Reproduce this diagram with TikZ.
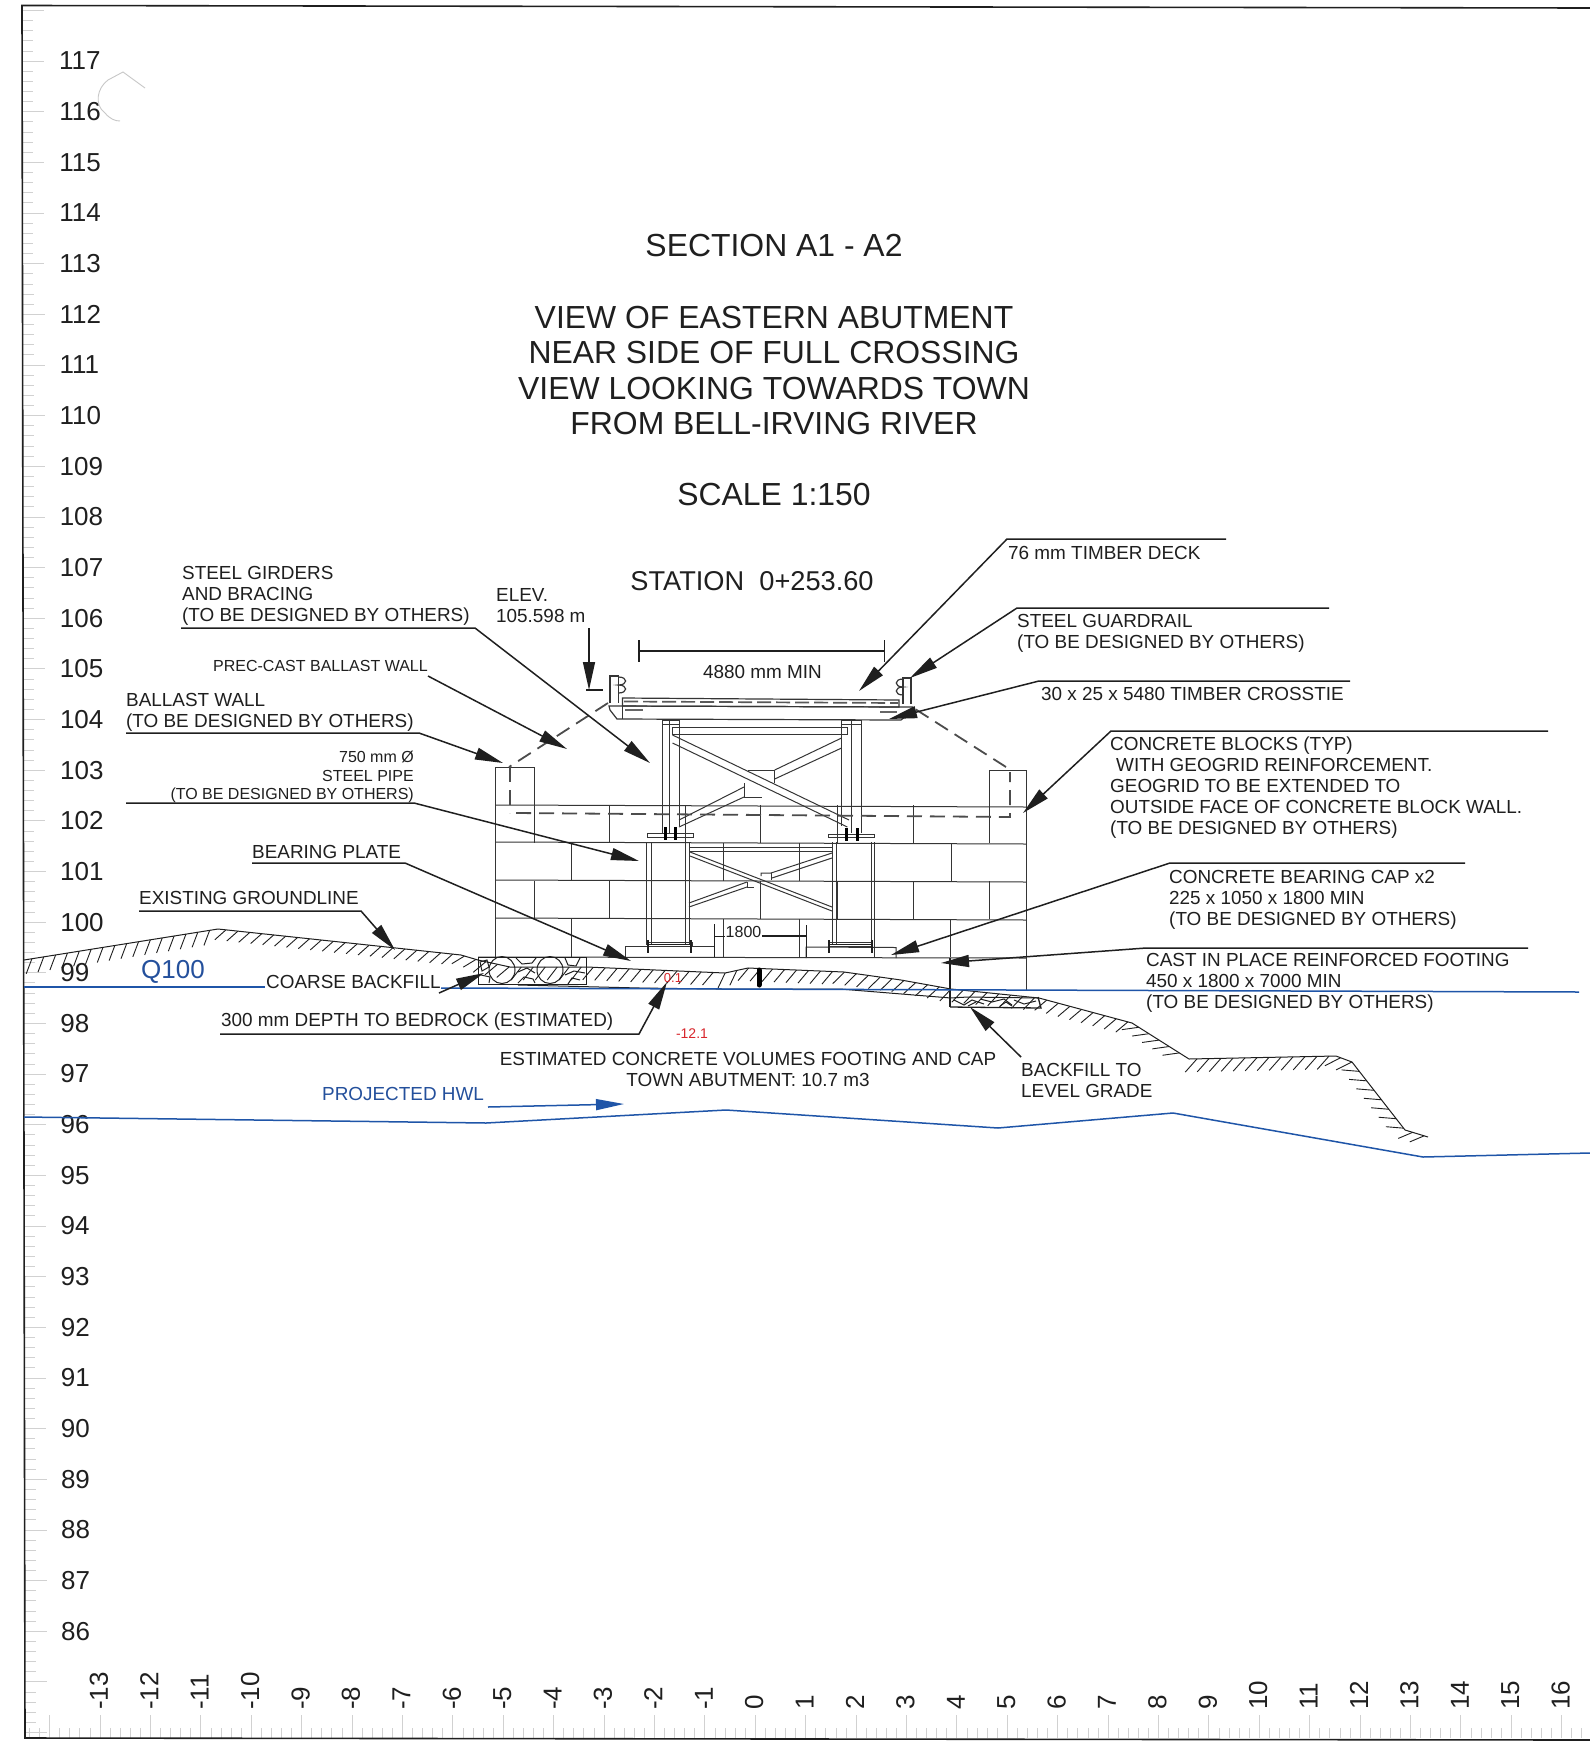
\documentclass[tikz,border=0pt]{standalone}
\usepackage{fontspec}
\setmainfont{Liberation Sans}
\usetikzlibrary{arrows.meta,decorations.markings}
\definecolor{ink}{gray}{0.12}
\definecolor{tickc}{gray}{0.82}
\definecolor{bluel}{HTML}{1F55A8}
\definecolor{bluet}{HTML}{24509C}
\definecolor{redt}{HTML}{D8262C}
\tikzset{
  lbl/.style={font=\fontsize{18.9}{21}\selectfont,inner sep=0pt,align=left,anchor=north west,text=ink},
  lblsm/.style={font=\fontsize{16}{18.5}\selectfont,inner sep=0pt,align=right,anchor=north east,text=ink},
  titl/.style={font=\fontsize{31.9}{35.5}\selectfont,inner sep=0pt,align=center,text=ink},
  axisnum/.style={font=\fontsize{26}{26}\selectfont,inner sep=0pt,text=ink},
  leader/.style={draw=ink,line width=1.5pt},
  tipped/.style={leader,-{Triangle[length=28pt,width=12pt]}},
  thin1/.style={draw=ink!90,line width=1pt},
  dashb/.style={draw=black!70,line width=1.8pt,dash pattern=on 15pt off 8pt},
  hatch/.style args={#1 and #2}{postaction={decorate,decoration={markings,mark=between positions 8pt and 1 step 12pt with {\draw[draw=ink,line width=0.9pt] (0,0) -- (#1pt,#2pt);}}}},
  stone/.style={draw=ink,line width=1pt},
  hwl/.style={draw=bluel,line width=1.5pt},
}
\begin{document}
\begin{tikzpicture}[x=1pt,y=-1pt]
\useasboundingbox (0,0) rectangle (1590,1743);
\fill[white] (0,0) rectangle (1590,1743);
% ticks
\foreach \i in {-5,...,165}{
  \pgfmathsetmacro{\yy}{61+10.13*\i}
  \pgfmathsetmacro{\xx}{22+(\yy-5)*3/1733}
  \pgfmathtruncatemacro{\mm}{mod(\i+100,5)}
  \ifnum\mm=0 \draw[tickc,line width=0.7pt] (\xx,\yy) -- ++(22,0);
  \else \draw[tickc,line width=0.7pt] (\xx,\yy) -- ++(11,0); \fi
}
\foreach \i in {-7,...,148}{
  \pgfmathsetmacro{\xx}{100+10.08*\i}
  \pgfmathtruncatemacro{\mm}{mod(\i+100,5)}
  \ifnum\mm=0 \draw[tickc,line width=0.7pt] (\xx,1738) -- (\xx,1715);
  \else \draw[tickc,line width=0.7pt] (\xx,1738) -- (\xx,1728); \fi
}
% frame
\draw[ink,line width=1.6pt] (1590,8) -- (22,5.5) -- (25,1738) -- (1590,1740);
% axis numbers
\foreach \v in {86,...,117}{
  \pgfmathsetmacro{\yy}{61+(117-\v)*50.65}
  \pgfmathsetmacro{\xx}{59+(117-\v)*2/31}
  \node[axisnum,anchor=west] (y\v) at (\xx,\yy) {\v};
}
\foreach \v/\n in {-13/a,-12/b,-11/c,-10/d,-9/e,-8/f,-7/g,-6/h,-5/i,-4/j,-3/k,-2/l,-1/m,0/n,1/o,2/p,3/q,4/r,5/s,6/t,7/u,8/v,9/w,10/x,11/y,12/z,13/aa,14/ab,15/ac,16/ad}{
  \pgfmathsetmacro{\xx}{99+(\v+13)*50.4}
  \node[axisnum,rotate=90,anchor=west] (x\n) at (\xx,1710) {\v};
}
% punch-hole trace
\draw[black!22,line width=0.9pt] (145,88) -- (123,72) -- (108,80) .. controls (97,88) and (94,105) .. (105,113) .. controls (110,119) and (115,121) .. (120,121);
% titles
\node[titl] (t1) at (774,246) {SECTION A1 - A2};
\node[titl] (t2) at (774,370.5) {VIEW OF EASTERN ABUTMENT\\NEAR SIDE OF FULL CROSSING\\VIEW LOOKING TOWARDS TOWN\\FROM BELL-IRVING RIVER};
\node[titl] (t3) at (774,495) {SCALE 1:150};
\node[titl,font=\fontsize{27.2}{30}\selectfont] (t4) at (752,581) {STATION\ \ 0+253.60};

% ---------- concrete block wall
\begin{scope}[thin1]
\draw (495,767) -- (534,767) -- (534,805);
\draw (989,770) -- (1026.5,770) -- (1026.5,990);
\draw (989,770) -- (989,807);
\draw (495,767) -- (495,957);
\draw (495,805) -- (1026.5,807);
\draw (495,842) -- (1026.5,844);
\draw (495,880) -- (1026.5,882);
\draw (495,918) -- (1026.5,920);
\draw (478,957) -- (1026.5,958);
\foreach \x in {534,609,685,760.5,837,913,989}{\draw (\x,805) -- (\x,843);}
\foreach \x in {571,723,799,874,951}{\draw (\x,843) -- (\x,881);}
\foreach \x in {534,609,685,760.5,837,913,989}{\draw (\x,881) -- (\x,919);}
\foreach \x in {571,799,723,874,950}{\draw (\x,919) -- (\x,957);}
% steel pipes
\foreach \x in {646.5,651,685,689,832,836.7,871,874.5}{\draw (\x,842) -- (\x,945);}
% caps
\draw (625.4,957) -- (625.4,946) -- (714.6,946) -- (714.6,957);
\draw (806,958) -- (806,947) -- (896,947.5) -- (896,958);
% lower bracing
\draw (689,847) -- (832,847);
\draw (689,851) -- (832,851);
\draw (690,852) -- (832,907);
\draw (690,856) -- (832,911);
\draw (832,853) -- (771,873) -- (761,873) -- (761,876);
\draw (832,858) -- (772,878);
\draw (771,873) -- (771,880);
\draw (747,882) -- (689,903);
\draw (747,887) -- (689,907);
\draw (747,882) -- (747,887) -- (754,887);
% girders
\draw (662,720) -- (662,833);
\draw (669,720) -- (669,833);
\draw (679,720) -- (679,826);
\draw (662,720) rectangle (679,724);
\draw (841.6,720) -- (841.6,826);
\draw (851,720) -- (851,833);
\draw (861,720) -- (861,833);
\draw (841.6,720) rectangle (861,724);
\draw (672.5,727) rectangle (847.4,734);
\draw (672.5,735) -- (849,820);
\draw (672.5,743) -- (847.4,827);
\draw (841.6,738) -- (774.7,770);
\draw (841.6,748) -- (774.7,779);
\draw (744,787) -- (679,820);
\draw (744,797) -- (679,827);
\draw (748,770) -- (774.7,770) -- (774.7,783);
\draw (744,783) -- (744,797) -- (762,797);
% base plates
\draw (647,833) rectangle (693,837);
\draw (828,834) rectangle (874,837);
\draw (647,942) rectangle (692,946);
\draw (829,942) rectangle (872,946);
% deck & crosstie
\draw[line width=1.2pt] (622.4,698) -- (899,700) -- (899,707) -- (622.4,706) -- cycle;
\draw[line width=1.2pt] (609,706) -- (912.5,707) -- (912.5,711) -- (901,720) -- (617,719) -- (610,710) -- cycle;
\draw (622.4,706) -- (622.4,719);
% guardrails
\draw[line width=1.2pt] (610,703) -- (610,676) -- (618.5,676) -- (618.5,703);
\draw[line width=1.2pt] (618.5,677) .. controls (628,677) and (628,685) .. (618.5,685) .. controls (628,685) and (628,693) .. (618.5,693);
\draw[line width=1.2pt] (911,704) -- (911,678) -- (903,678) -- (903,704);
\draw[line width=1.2pt] (903,679) .. controls (894,679) and (894,687) .. (903,687) .. controls (894,687) and (894,695) .. (903,695);
\end{scope}
% deck dashes
\draw[draw=black!65,line width=1.7pt,dash pattern=on 14pt off 5pt] (624,701.5) -- (898,703);
\draw[draw=black!60,line width=1.5pt] (625,710) -- (643,710);
\draw[draw=black!60,line width=1.5pt] (880,712) -- (897,712);
% bolts
\foreach \x/\y in {665.6/833,675/833,846/834,857/834}{\draw[black,line width=3pt] (\x,\y-6) -- (\x,\y+7);}
\foreach \x/\y in {648/950,691/950,829/950,872/950}{\draw[ink,line width=1.8pt] (\x,\y-10) -- (\x,\y+3);}
\draw[ink,line width=1.8pt] (648,944.5) -- (692,944.5);
\draw[ink,line width=1.8pt] (829,944.5) -- (872,944.5);
% ballast dashed outline
\draw[dashb] (608,703) -- (509,767);
\draw[dashb] (510,767) -- (510,813);
\draw[dashb] (516,813) -- (1010,817) -- (1010,772);
\draw[dashb] (1006,767) -- (912,707);

% ---------- ground
\draw[ink,line width=1pt,hatch={-8 and -14}] (24,960) -- (218,929);
\draw[ink,line width=1pt,hatch={-10 and -11}] (218,929) -- (396,948) -- (461,955) -- (478,960);
\draw[ink,line width=1pt,hatch={-10 and -13}] (478,960) -- (510,967) -- (587,967) -- (725,973) -- (748,968) -- (844,972) -- (901,980) -- (951,989) -- (1039,998);
\draw[ink,line width=1pt] (518,985) -- (640,988) -- (717,989) -- (840,989) -- (951,998);
\draw[ink,line width=1pt,hatch={-9 and -13}] (1039,998) -- (1132,1023);
\draw[ink,line width=1pt,hatch={-13 and -11}] (1132,1023) -- (1189,1059);
\draw[ink,line width=1pt,hatch={-12 and -13}] (1189,1059) -- (1336,1056) -- (1352,1062) -- (1405,1130);
\draw[ink,line width=1pt,hatch={-12 and -10}] (1405,1130) -- (1428,1137);
\draw[black,line width=5pt,line cap=round] (759,970) -- (759,985);
% left backfill
\draw[stone] (478,957) rectangle (586,984);
\draw[stone] (502,970) ellipse (13 and 13.5);
\draw[stone] (550,970) ellipse (13 and 13.5);
\draw[stone] (480,962) -- (487,960) -- (489,967) -- (482,971) -- cycle;
\draw[stone] (481,975) -- (490,977) -- (489,983);
\draw[stone] (516,958) -- (522,964) -- (532,963) -- (536,958);
\draw[stone] (518,972) -- (527,968) -- (535,973);
\draw[stone] (518,983) -- (524,977) -- (533,979) -- (535,983);
\draw[stone] (565,958) -- (568,965) -- (576,966) -- (580,958);
\draw[stone] (565,975) -- (574,971) -- (585,973);
\draw[stone] (568,984) -- (572,978) -- (580,980);
% right backfill
\draw[ink,line width=1.7pt] (950,958) -- (950,1007);
\draw[ink,line width=1.3pt] (950,1007) -- (1041,1008) -- (1038,997);
\draw[stone] (950,998) -- (968,997) -- (1038,998);
\draw[stone] (954,1000) -- (964,1005) -- (972,1000) -- (984,1004);
\draw[stone] (980,999) -- (992,1002) -- (1004,999) -- (1012,1005);
\draw[stone] (1014,1000) -- (1024,1004) -- (1036,1001);
\draw[stone] (968,1006) -- (976,1002);
\draw[stone] (1000,1006) -- (1006,1002) -- (1012,1006);

% ---------- water levels
\coordinate (q1) at (24,987);
\coordinate (q2) at (265,987);
\coordinate (q3) at (441,988);
\coordinate (q4) at (1579,992);
\draw[hwl] (q1) -- (q2);
\draw[hwl] (q3) -- (q4);
\draw[hwl] (24,1117) -- (486,1123) -- (726,1110) -- (998,1128) -- (1173,1113) -- (1423,1157) -- (1590,1153);
\node[axisnum,text=bluet,anchor=west] (q100) at (141,972) {Q100};
\node[lbl,anchor=west,text=bluet] (phwl) at (322,1094) {PROJECTED HWL};
\coordinate (ph1) at (488,1107);
\coordinate (ph2) at (624,1104);
\draw[draw=bluel,line width=1.5pt,-{Triangle[length=28pt,width=11pt]},bluel] (ph1) -- (ph2);

% ---------- dimension
\coordinate (d1) at (639,651);
\coordinate (d2) at (884.5,651);
\draw[ink,line width=1.5pt] (d1) -- (d2);
\draw[ink,line width=1.1pt] (639,640) -- (639,662);
\draw[ink,line width=1.1pt] (884.5,640) -- (884.5,662);
\node[lbl,anchor=center] (dim) at (762.4,672) {4880 mm MIN};
\node[font=\fontsize{16}{16}\selectfont,inner sep=0pt,text=ink] (d1800) at (743.5,932) {1800};
\draw[ink,line width=1pt] (714.6,924) -- (714.6,957);
\draw[ink,line width=1pt] (714.6,936) -- (725,936);
\draw[ink,line width=1.3pt] (762.4,936) -- (806.4,936);
\draw[ink,line width=1pt] (806.4,925) -- (806.4,957);
% elevation
\node[lbl] (elev) at (496,588) {ELEV.\\105.598 m};
\coordinate (el1) at (589,628);
\coordinate (el2) at (589,690);
\draw[tipped] (el1) -- (el2);
\draw[ink,line width=1.1pt] (586,690) -- (603,690);

% ---------- left labels
\node[lbl] (girders) at (182,566) {STEEL GIRDERS\\AND BRACING\\(TO BE DESIGNED BY OTHERS)};
\coordinate (g1) at (181,628); \coordinate (g2) at (475,628); \coordinate (g3) at (650,763);
\draw[tipped] (g1) -- (g2) -- (g3);
\node[font=\fontsize{16}{16}\selectfont,inner sep=0pt,anchor=west,text=ink] (prec) at (213,666) {PREC-CAST BALLAST WALL};
\coordinate (p1) at (428,676); \coordinate (p2) at (567,749);
\draw[tipped] (p1) -- (p2);
\node[lbl] (ballast) at (126,693) {BALLAST WALL\\(TO BE DESIGNED BY OTHERS)};
\coordinate (b1) at (126,733); \coordinate (b2) at (419,733); \coordinate (b3) at (503,763);
\draw[tipped] (b1) -- (b2) -- (b3);
\node[lblsm] (pipe) at (414,751) {750 mm Ø\\STEEL PIPE\\(TO BE DESIGNED BY OTHERS)};
\coordinate (s1) at (126,803); \coordinate (s2) at (414,803); \coordinate (s3) at (639,861);
\draw[tipped] (s1) -- (s2) -- (s3);
\node[lbl] (bplate) at (252,845) {BEARING PLATE};
\coordinate (bp1) at (252,863); \coordinate (bp2) at (405,863); \coordinate (bp3) at (631,961);
\draw[tipped] (bp1) -- (bp2) -- (bp3);
\node[lbl] (exist) at (139,891) {EXISTING GROUNDLINE};
\coordinate (e1) at (139,911); \coordinate (e2) at (361,911); \coordinate (e3) at (395,950);
\draw[tipped] (e1) -- (e2) -- (e3);
\node[lbl,anchor=west] (coarse) at (266,982) {COARSE BACKFILL};
\coordinate (c1) at (439,993); \coordinate (c2) at (484,973);
\draw[tipped] (c1) -- (c2);
\node[lbl,anchor=west] (depth) at (221,1022) {300 mm DEPTH TO BEDROCK (ESTIMATED)};
\coordinate (r1) at (220,1034); \coordinate (r2) at (639,1034); \coordinate (r3) at (667,982);
\draw[tipped] (r1) -- (r2) -- (r3);
\node[font=\fontsize{13}{13}\selectfont,inner sep=0pt,text=redt] (r01) at (673,978) {0.1};
\node[font=\fontsize{14}{14}\selectfont,inner sep=0pt,text=redt] (r12) at (692,1034) {-12.1};
\node[lbl,align=center,anchor=north] (estim) at (748,1052) {ESTIMATED CONCRETE VOLUMES FOOTING AND CAP\\TOWN ABUTMENT: 10.7 m3};

% ---------- right labels
\node[lbl] (deck) at (1008,546) {76 mm TIMBER DECK};
\coordinate (k1) at (1226,539); \coordinate (k2) at (1007,539); \coordinate (k3) at (859,691);
\draw[tipped] (k1) -- (k2) -- (k3);
\node[lbl] (guard) at (1017,614) {STEEL GUARDRAIL\\(TO BE DESIGNED BY OTHERS)};
\coordinate (u1) at (1329,608); \coordinate (u2) at (1017,608); \coordinate (u3) at (910,678);
\draw[tipped] (u1) -- (u2) -- (u3);
\node[lbl] (cross) at (1041,687) {30 x 25 x 5480 TIMBER CROSSTIE};
\coordinate (x1) at (1350,681); \coordinate (x2) at (1039,681); \coordinate (x3) at (889,719);
\draw[tipped] (x1) -- (x2) -- (x3);
\node[lbl] (blocks) at (1110,737) {CONCRETE BLOCKS (TYP)\\\hspace*{6pt}WITH GEOGRID REINFORCEMENT.\\GEOGRID TO BE EXTENDED TO\\OUTSIDE FACE OF CONCRETE BLOCK WALL.\\(TO BE DESIGNED BY OTHERS)};
\coordinate (l1) at (1548,731); \coordinate (l2) at (1111,731); \coordinate (l3) at (1023,813);
\draw[tipped] (l1) -- (l2) -- (l3);
\node[lbl] (cap) at (1169,870) {CONCRETE BEARING CAP x2\\225 x 1050 x 1800 MIN\\(TO BE DESIGNED BY OTHERS)};
\coordinate (a1) at (1465,863); \coordinate (a2) at (1170,863); \coordinate (a3) at (891,955);
\draw[tipped] (a1) -- (a2) -- (a3);
\node[lbl] (foot) at (1146,953) {CAST IN PLACE REINFORCED FOOTING\\450 x 1800 x 7000 MIN\\(TO BE DESIGNED BY OTHERS)};
\coordinate (f1) at (1528,948); \coordinate (f2) at (1146,948); \coordinate (f3) at (941,963);
\draw[tipped] (f1) -- (f2) -- (f3);
\node[lbl] (level) at (1021,1063) {BACKFILL TO\\LEVEL GRADE};
\coordinate (v1) at (1021,1057); \coordinate (v2) at (970,1007);
\draw[tipped] (v1) -- (v2);
\end{tikzpicture}
\end{document}
